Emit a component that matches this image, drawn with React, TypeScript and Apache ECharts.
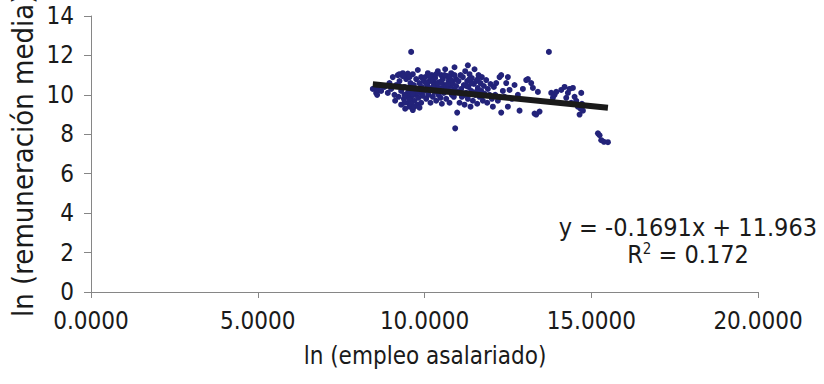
import React, { useEffect, useRef } from "react";
import * as echarts from "echarts";

const xTicks = [0, 5, 10, 15, 20];
const yTicks = [0, 2, 4, 6, 8, 10, 12, 14];
const slope = -0.1691;
const intercept = 11.963;
const rSquared = "0.172";
const xTitle = "ln (empleo asalariado)";
const yTitle = "ln (remuneración media)";

const groupA: number[][] = [
  [8.45, 10.3], [8.52, 10.35], [8.55, 10.1], [8.58, 10.0], [8.6, 10.25], [8.62, 10.45], [8.7, 10.2], [8.8, 10.4],
  [8.9, 10.1], [8.95, 10.6], [9.0, 10.3],
];
const groupB: number[][] = [
  [9.05, 10.9], [9.1, 10.0], [9.12, 9.7], [9.15, 10.5], [9.2, 11.0], [9.22, 9.9], [9.25, 10.7], [9.3, 9.5],
  [9.3, 10.2], [9.35, 11.1], [9.38, 9.8], [9.4, 10.4], [9.42, 9.3], [9.45, 10.8], [9.48, 10.0], [9.5, 9.6],
  [9.5, 11.0], [9.52, 10.3], [9.55, 9.4], [9.58, 10.6], [9.6, 12.18], [9.6, 9.9], [9.62, 10.2], [9.65, 9.23],
  [9.65, 11.05], [9.68, 10.5], [9.7, 9.7], [9.72, 10.0], [9.75, 10.8], [9.78, 9.5], [9.8, 11.26], [9.8, 10.3],
  [9.82, 9.85], [9.85, 10.6], [9.88, 10.1], [9.9, 9.6], [9.9, 10.9], [9.92, 10.4], [9.95, 9.95], [9.98, 10.7],
  [10.0, 10.2], [9.4, 9.6], [9.45, 9.9], [9.55, 9.75], [9.6, 9.55], [9.7, 9.4], [9.75, 10.1], [9.85, 9.35],
  [9.5, 10.1], [9.65, 10.05], [9.4, 10.0], [9.25, 11.05], [9.35, 10.95], [9.5, 11.08], [9.55, 10.9],
];
const groupC: number[][] = [
  [10.02, 10.9], [10.05, 9.8], [10.08, 10.5], [10.1, 11.1], [10.12, 10.0], [10.15, 10.7], [10.18, 9.6],
  [10.2, 10.3], [10.22, 11.0], [10.25, 9.9], [10.28, 10.6], [10.3, 10.15], [10.32, 10.85], [10.35, 9.7],
  [10.38, 10.4], [10.4, 11.2], [10.42, 10.0], [10.45, 10.65], [10.48, 9.85], [10.5, 10.35], [10.5, 11.0],
  [10.52, 9.55], [10.55, 10.8], [10.58, 10.1], [10.6, 10.5], [10.62, 11.3], [10.65, 9.8], [10.68, 10.95],
  [10.7, 10.25], [10.72, 10.7], [10.75, 9.6], [10.78, 10.45], [10.8, 11.1], [10.82, 10.0], [10.85, 10.6],
  [10.88, 9.9], [10.9, 11.4], [10.9, 10.3], [10.92, 8.3], [10.95, 10.8], [10.98, 9.1], [11.0, 10.15],
  [10.1, 10.35], [10.2, 10.75], [10.3, 10.5], [10.4, 10.6], [10.55, 10.3], [10.65, 10.4], [10.75, 10.9],
  [10.85, 10.2], [10.95, 10.45], [10.15, 10.95], [10.35, 11.05], [10.6, 11.0], [10.25, 10.4], [10.45, 10.2],
  [10.7, 10.55], [10.8, 10.75], [10.05, 10.6], [10.5, 10.65], [10.9, 11.0],
];
const groupD: number[][] = [
  [11.02, 10.7], [11.05, 9.6], [11.08, 11.0], [11.1, 10.3], [11.12, 9.9], [11.15, 10.9], [11.18, 10.5],
  [11.2, 9.5], [11.22, 11.2], [11.25, 10.1], [11.28, 10.7], [11.3, 11.5], [11.3, 9.8], [11.32, 10.4],
  [11.35, 11.05], [11.38, 9.4], [11.4, 10.2], [11.42, 10.85], [11.45, 9.7], [11.48, 10.55], [11.5, 11.3],
  [11.52, 10.0], [11.55, 10.7], [11.58, 9.55], [11.6, 10.35], [11.62, 11.0], [11.65, 9.9], [11.68, 10.6],
  [11.7, 10.2], [11.72, 10.9], [11.75, 9.7], [11.78, 10.45], [11.8, 10.05], [11.85, 10.75], [11.88, 9.6],
  [11.9, 10.3], [11.95, 10.0], [11.98, 10.55], [11.1, 10.1], [11.25, 10.45], [11.4, 10.6], [11.55, 10.15],
  [11.7, 9.95], [11.35, 10.8], [11.2, 10.0], [11.6, 10.8],
];
const groupE: number[][] = [
  [12.02, 9.8], [12.05, 9.4], [12.08, 10.4], [12.12, 10.0], [12.15, 10.6], [12.2, 9.7], [12.25, 10.9],
  [12.3, 11.0], [12.3, 9.1], [12.35, 10.2], [12.4, 9.9], [12.45, 10.6], [12.5, 10.9], [12.5, 9.4],
  [12.55, 10.25], [12.62, 9.8], [12.7, 10.5], [12.8, 10.0], [12.85, 9.2], [12.95, 10.3],
];
const groupF: number[][] = [
  [13.05, 10.75], [13.1, 10.8], [13.2, 10.6], [13.25, 10.35], [13.3, 9.05], [13.35, 9.0], [13.4, 10.15],
  [13.45, 9.15], [13.73, 12.18], [13.8, 10.1], [13.85, 9.85], [13.9, 10.0], [13.95, 10.15],
];
const groupG: number[][] = [
  [14.1, 10.25], [14.2, 10.4], [14.25, 9.85], [14.3, 10.1], [14.35, 10.3], [14.4, 9.6], [14.45, 10.35],
  [14.5, 9.9], [14.55, 9.7], [14.6, 9.4], [14.65, 9.0], [14.68, 9.3], [14.72, 9.55], [14.75, 9.2], [14.7, 10.1],
];
const groupH: number[][] = [
  [15.2, 8.05], [15.25, 7.95], [15.3, 7.7], [15.38, 7.62], [15.5, 7.6],
];

const points = [...groupA, ...groupB, ...groupC, ...groupD, ...groupE, ...groupF, ...groupG, ...groupH];

const FONT = "'DejaVu Sans Condensed', 'DejaVu Sans', sans-serif";
const TEXT = "#1a1a1a";
const AXIS = "#868686";

export default function App() {
  const ref = useRef<HTMLDivElement>(null);
  useEffect(() => {
    if (!ref.current) return;
    const chart = echarts.init(ref.current, undefined, { renderer: "svg" });
    const xs = points.map((p) => p[0]);
    const xMin = Math.min(...xs);
    const xMax = Math.max(...xs);
    const trend = [
      [xMin, slope * xMin + intercept],
      [xMax, slope * xMax + intercept],
    ];
    chart.setOption({
      animation: false,
      backgroundColor: "#ffffff",
      grid: { left: 91, right: 66, top: 16, bottom: 92 },
      xAxis: {
        type: "value",
        min: xTicks[0],
        max: xTicks[xTicks.length - 1],
        interval: 5,
        splitLine: { show: false },
        axisLine: { show: true, onZero: false, lineStyle: { color: AXIS, width: 1 } },
        axisTick: { show: true, inside: false, length: 6, lineStyle: { color: AXIS } },
        axisLabel: {
          margin: 17,
          fontSize: 24,
          fontFamily: FONT,
          color: TEXT,
          formatter: (v: number) => v.toFixed(4),
        },
      },
      yAxis: {
        type: "value",
        min: yTicks[0],
        max: yTicks[yTicks.length - 1],
        interval: 2,
        splitLine: { show: false },
        axisLine: { show: true, onZero: false, lineStyle: { color: AXIS, width: 1 } },
        axisTick: { show: true, inside: false, length: 7, lineStyle: { color: AXIS } },
        axisLabel: { margin: 17, fontSize: 24, fontFamily: FONT, color: TEXT },
      },
      graphic: [
        {
          type: "text",
          x: 425,
          y: 356,
          style: {
            text: xTitle,
            font: `24px ${FONT}`,
            fill: TEXT,
            textAlign: "center",
            textVerticalAlign: "middle",
          },
        },
        {
          type: "text",
          x: 23,
          y: 317,
          rotation: Math.PI / 2,
          style: {
            text: yTitle,
            font: `29px ${FONT}`,
            fill: TEXT,
            textAlign: "left",
            textVerticalAlign: "middle",
          },
        },
        {
          type: "text",
          x: 817,
          y: 227,
          style: {
            text: `y = ${slope}x + ${intercept}`,
            font: `25px ${FONT}`,
            fill: TEXT,
            textAlign: "right",
            textVerticalAlign: "middle",
          },
        },
        {
          type: "text",
          x: 688,
          y: 254,
          style: {
            text: `R{sup|2} = ${rSquared}`,
            font: `25px ${FONT}`,
            fill: TEXT,
            textAlign: "center",
            textVerticalAlign: "middle",
            rich: {
              sup: { fontSize: 15, fontFamily: FONT, verticalAlign: "top", padding: [0, 0, 10, 0], fill: TEXT },
            },
          },
        },
      ],
      series: [
        {
          type: "scatter",
          data: points,
          symbol: "circle",
          symbolSize: 6,
          itemStyle: { color: "#23237a", opacity: 1 },
          z: 2,
        },
        {
          type: "line",
          data: trend,
          symbol: "none",
          lineStyle: { color: "#1a1a1a", width: 6 },
          z: 3,
        },
      ],
    });
    return () => chart.dispose();
  }, []);
  return (
    <div
      ref={ref}
      style={{ position: "fixed", left: 0, top: 0, width: 824, height: 384 }}
    />
  );
}
